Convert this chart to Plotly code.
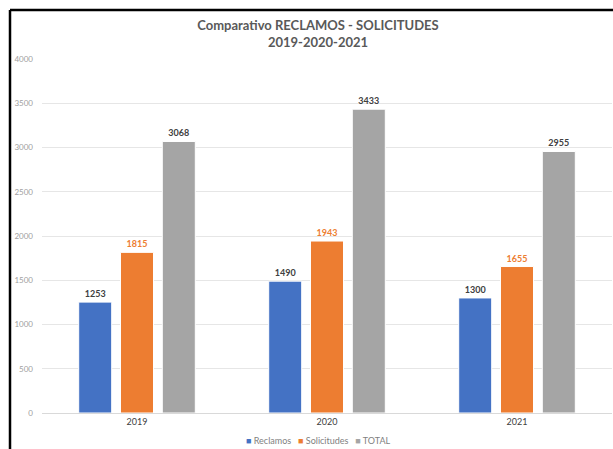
import plotly.graph_objects as go

years = ["2019", "2020", "2021"]
reclamos = [1253, 1490, 1300]
solicitudes = [1815, 1943, 1655]
total = [3068, 3433, 2955]

series = [
    ("Reclamos", reclamos, "#4472C4", "#404040"),
    ("Solicitudes", solicitudes, "#ED7D31", "#ED7D31"),
    ("TOTAL", total, "#A5A5A5", "#404040"),
]

fig = go.Figure()
for name, vals, color, tcolor in series:
    fig.add_trace(go.Bar(
        x=years, y=vals, name=name,
        marker=dict(color=color, line=dict(color="white", width=1)),
        text=[str(v) for v in vals], textposition="outside",
        textfont=dict(size=9, color=tcolor, family="Lato", weight="bold"),
        cliponaxis=False, showlegend=False,
    ))

W, H = 613, 449
ml, mr, mt, mb = 42, 1, 59, 36
pw, ph = W - ml - mr, H - mt - mb

def px(x):
    return (x - ml) / pw

def py(y):
    return (H - mb - y) / ph

legend_text = "&nbsp;&nbsp;&nbsp;".join(
    f"<span style='color:{c}'>■</span> {n}" for n, _, c, _ in series
)

fig.update_layout(
    width=W, height=H,
    margin=dict(l=ml, r=mr, t=mt, b=mb, autoexpand=False),
    paper_bgcolor="white", plot_bgcolor="white",
    font=dict(family="Lato", color="#595959"),
    title=dict(
        text="<b>Comparativo RECLAMOS - SOLICITUDES<br>2019-2020-2021</b>",
        x=318 / W, xanchor="center", xref="container",
        y=1 - 30 / H, yanchor="top", yref="container",
        font=dict(size=13, color="#595959", family="Lato"),
    ),
    barmode="group", bargap=0.34, bargroupgap=0.21,
    xaxis=dict(showgrid=False, showline=True, linecolor="#D9D9D9", linewidth=1,
               ticks="", tickfont=dict(size=9, color="#404040")),
    yaxis=dict(range=[0, 4000], dtick=500, showgrid=True, gridcolor="#E6E6E6", gridwidth=1,
               zeroline=False, showline=False, ticks="",
               tickfont=dict(size=8, color="#A0A0A0"), ticklabelstandoff=8),
    annotations=[
        dict(text=legend_text, xref="paper", yref="paper", x=px(318), y=py(440),
             xanchor="center", yanchor="middle", showarrow=False,
             font=dict(size=9, color="#7F7F7F", family="Lato")),
    ],
    shapes=[
        dict(type="line", xref="paper", yref="paper", x0=px(10), x1=px(613), y0=py(10), y1=py(10),
             line=dict(color="black", width=2.5)),
        dict(type="line", xref="paper", yref="paper", x0=px(10), x1=px(10), y0=py(10), y1=py(449),
             line=dict(color="black", width=2.5)),
    ],
)

fig.write_html("out.html")
